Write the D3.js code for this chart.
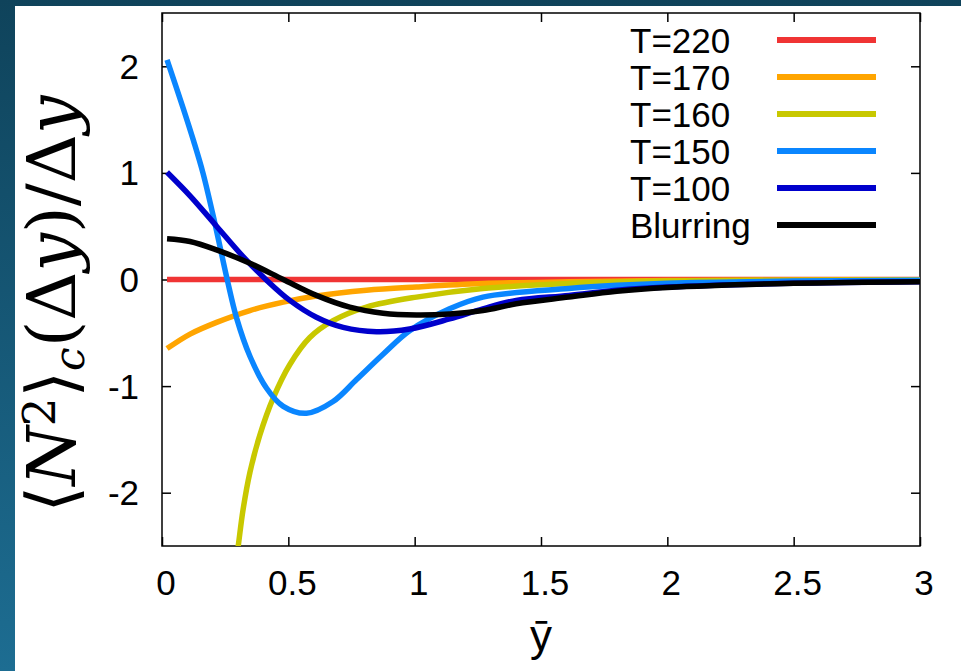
<!DOCTYPE html>
<html>
<head>
<meta charset="utf-8">
<script src="https://cdn.jsdelivr.net/npm/d3@7"></script>
<style>
  html, body { margin: 0; padding: 0; background: #10435c; }
  svg { display: block; }
</style>
</head>
<body>
<svg id="chart" width="961" height="671"></svg>
<script>
// values (x = y-bar, y = <N^2>_c / dy)
var xTicks = [0, 0.5, 1, 1.5, 2, 2.5, 3];
var yTicks = [-2, -1, 0, 1, 2];
var labels = ["T=220", "T=170", "T=160", "T=150", "T=100", "Blurring"];
var colors = ["#f03434", "#ffa500", "#c8c800", "#0a86ff", "#0000cc", "#000000"];

var t220 = [[0.02, 0], [1, 0], [2, 0], [3, 0]];
var t170 = [[0.02, -0.648], [0.111, -0.512], [0.216, -0.402], [0.348, -0.291], [0.48, -0.212],
  [0.611, -0.155], [0.809, -0.101], [1.007, -0.07], [1.27, -0.038], [1.61, -0.022],
  [2.0, -0.01], [2.5, -0.005], [3, -0.002]];
var t160 = [[0.285, -2.8], [0.302, -2.495], [0.321, -2.157], [0.348, -1.809], [0.387, -1.461],
  [0.44, -1.113], [0.506, -0.797], [0.585, -0.544], [0.677, -0.386], [0.809, -0.259],
  [1.007, -0.165], [1.27, -0.085], [1.61, -0.038], [2.0, -0.015], [2.5, -0.006], [3, -0.003]];
var t150 = [[0.02, 2.06], [0.084, 1.606], [0.125, 1.3], [0.162, 1.0], [0.21, 0.52],
  [0.258, 0], [0.295, -0.36], [0.348, -0.72], [0.414, -1.02], [0.48, -1.19], [0.572, -1.255],
  [0.677, -1.145], [0.77, -0.939], [0.875, -0.702], [0.98, -0.481], [1.138, -0.275],
  [1.27, -0.165], [1.61, -0.085], [1.8, -0.055], [2.0, -0.035], [2.5, -0.015], [3, -0.008]];
var t100 = [[0.02, 1.006], [0.111, 0.785], [0.216, 0.5], [0.321, 0.215], [0.414, -0.006],
  [0.506, -0.196], [0.611, -0.354], [0.717, -0.449], [0.849, -0.49], [0.98, -0.465],
  [1.138, -0.37], [1.27, -0.275], [1.402, -0.196], [1.61, -0.149], [1.8, -0.1],
  [2.0, -0.07], [2.5, -0.035], [3, -0.02]];
var blur = [[0.02, 0.383], [0.111, 0.357], [0.216, 0.278], [0.348, 0.152], [0.48, 0],
  [0.611, -0.149], [0.743, -0.259], [0.875, -0.316], [1.007, -0.332], [1.138, -0.323],
  [1.27, -0.291], [1.402, -0.228], [1.61, -0.165], [1.8, -0.11], [2.0, -0.075],
  [2.5, -0.035], [3, -0.02]];
var series = [t220, t170, t160, t150, t100, blur];

var svg = d3.select("#chart");

// slide background
var defs = svg.append("defs");
var grad = defs.append("linearGradient").attr("id", "bg")
  .attr("x1", 0).attr("y1", 0).attr("x2", 0).attr("y2", 1);
grad.append("stop").attr("offset", "0%").attr("stop-color", "#0f435b");
grad.append("stop").attr("offset", "100%").attr("stop-color", "#1d6d92");
svg.append("rect").attr("width", 961).attr("height", 671).attr("fill", "url(#bg)");
svg.append("rect").attr("x", 15).attr("y", 6).attr("width", 946).attr("height", 665).attr("fill", "#fff");

var x = d3.scaleLinear().domain([0, 3]).range([162, 920]);
var y = d3.scaleLinear().domain([-2.5, 2.5]).range([546, 13]);

defs.append("clipPath").attr("id", "plotclip")
  .append("rect").attr("x", 162).attr("y", 13).attr("width", 758).attr("height", 533);

var font = "'Liberation Sans', Arial, sans-serif";

// frame and mirrored inward ticks
var frame = svg.append("g").attr("fill", "none").attr("stroke", "#000").attr("stroke-width", 1.5);
frame.append("rect").attr("x", x(0)).attr("y", y(2.5))
  .attr("width", x(3) - x(0)).attr("height", y(-2.5) - y(2.5));

svg.append("g").attr("transform", "translate(0," + y(-2.5) + ")")
  .call(d3.axisBottom(x).tickValues(xTicks).tickSize(-9).tickFormat(""))
  .call(g => g.select(".domain").remove());
svg.append("g").attr("transform", "translate(0," + y(2.5) + ")")
  .call(d3.axisTop(x).tickValues(xTicks).tickSize(-9).tickFormat(""))
  .call(g => g.select(".domain").remove());
svg.append("g").attr("transform", "translate(" + x(0) + ",0)")
  .call(d3.axisLeft(y).tickValues(yTicks).tickSize(-9).tickFormat(""))
  .call(g => g.select(".domain").remove());
svg.append("g").attr("transform", "translate(" + x(3) + ",0)")
  .call(d3.axisRight(y).tickValues(yTicks).tickSize(-9).tickFormat(""))
  .call(g => g.select(".domain").remove());
svg.selectAll(".tick line").attr("stroke", "#000").attr("stroke-width", 1.5);

// tick labels
svg.append("g").selectAll("text").data(xTicks).join("text")
  .attr("x", d => x(d) + 4).attr("y", 595)
  .attr("text-anchor", "middle").attr("font-family", font).attr("font-size", 35)
  .text(d => d);
svg.append("g").selectAll("text").data(yTicks).join("text")
  .attr("x", 139).attr("y", d => y(d) + 12.5)
  .attr("text-anchor", "end").attr("font-family", font).attr("font-size", 35)
  .text(d => d);

// curves
var line = d3.line().x(d => x(d[0])).y(d => y(d[1])).curve(d3.curveCatmullRom.alpha(0.5));
svg.append("g").attr("clip-path", "url(#plotclip)")
  .selectAll("path").data(series).join("path")
  .attr("d", line).attr("fill", "none")
  .attr("stroke", (d, i) => colors[i]).attr("stroke-width", 5.5);

// legend
var leg = svg.append("g").selectAll("g").data(labels).join("g")
  .attr("transform", (d, i) => "translate(0," + (40 + i * 37) + ")");
leg.append("text").attr("x", 630).attr("y", 12.5)
  .attr("font-family", font).attr("font-size", 35).text(d => d);
leg.append("line").attr("x1", 777).attr("x2", 876)
  .attr("stroke", (d, i) => colors[i]).attr("stroke-width", 6);

// x label
svg.append("text").attr("x", x(1.5)).attr("y", 651)
  .attr("text-anchor", "middle").attr("font-family", font).attr("font-size", 44)
  .text("ȳ");

// y label, LaTeX-like
var fs = 50;
var yl = svg.append("text")
  .attr("transform", "translate(75,304) rotate(-90)")
  .attr("text-anchor", "middle")
  .attr("font-family", "'DejaVu Serif', 'Liberation Serif', serif")
  .attr("font-weight", 300)
  .attr("font-size", fs);
yl.append("tspan").text("⟨");
yl.append("tspan").attr("font-style", "italic").text("N");
yl.append("tspan").attr("font-size", "66%").attr("dy", -20).text("2");
yl.append("tspan").attr("dy", 20).text("⟩");
yl.append("tspan").attr("font-style", "italic").attr("font-size", "62%").attr("dy", 9).text("c");
yl.append("tspan").attr("dy", -9).text("(Δ");
yl.append("tspan").attr("font-style", "italic").text("y");
yl.append("tspan").text(")/Δ");
yl.append("tspan").attr("font-style", "italic").text("y");
var L = yl.node().getComputedTextLength();
if (L > 0) yl.attr("font-size", fs * 417 / L);
</script>
</body>
</html>
